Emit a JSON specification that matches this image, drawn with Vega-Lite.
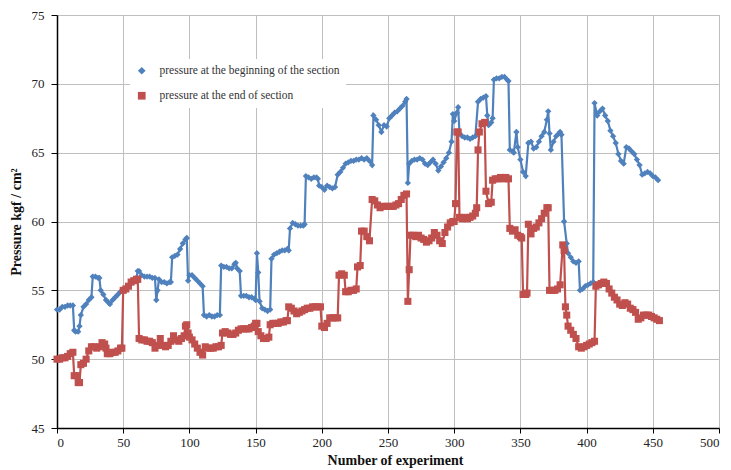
{
  "$schema": "https://vega.github.io/schema/vega-lite/v6.json",
  "width": 662,
  "height": 413,
  "autosize": {"type": "none"},
  "padding": {"left": 57, "top": 15, "right": 12, "bottom": 42},
  "background": "white",
  "config": {
    "view": {"stroke": "#bfbfbf"},
    "font": "Liberation Serif",
    "legend": {
      "orient": "none", "legendX": 73, "legendY": 44,
      "fillColor": "white", "padding": 6, "title": null,
      "labelFont": "Liberation Serif", "labelFontSize": 11.5, "labelColor": "#333333", "labelLimit": 0,
      "rowPadding": 12, "symbolSize": 60, "symbolStrokeWidth": 0, "labelOffset": 12
    }
  },
  "datasets": {
    "begin": [
      {"n":0,"p":53.6},{"n":2,"p":53.6},{"n":4,"p":53.8},{"n":6,"p":53.8},{"n":8,"p":53.9},{"n":10,"p":53.9},{"n":12,"p":53.9},{"n":13,"p":52.1},{"n":14,"p":52.0},{"n":16,"p":52.0},{"n":17,"p":52.4},{"n":18,"p":53.2},{"n":20,"p":53.8},{"n":22,"p":54.0},{"n":24,"p":54.3},{"n":26,"p":54.5},{"n":27,"p":56.0},{"n":29,"p":56.0},{"n":31,"p":55.9},{"n":32,"p":55.9},{"n":33,"p":55.0},{"n":35,"p":54.7},{"n":37,"p":54.3},{"n":39,"p":54.1},{"n":40,"p":54.0},{"n":42,"p":54.3},{"n":44,"p":54.5},{"n":46,"p":54.7},{"n":48,"p":54.9},{"n":50,"p":55.0},{"n":52,"p":55.2},{"n":54,"p":55.3},{"n":56,"p":55.5},{"n":58,"p":55.7},{"n":60,"p":55.9},{"n":61,"p":56.4},{"n":62,"p":56.4},{"n":64,"p":56.1},{"n":66,"p":56.0},{"n":68,"p":56.0},{"n":70,"p":56.0},{"n":72,"p":55.9},{"n":74,"p":55.9},{"n":75,"p":54.3},{"n":76,"p":55.0},{"n":77,"p":55.8},{"n":79,"p":55.6},{"n":81,"p":55.6},{"n":83,"p":55.5},{"n":85,"p":55.6},{"n":86,"p":55.6},{"n":87,"p":57.4},{"n":89,"p":57.5},{"n":91,"p":57.6},{"n":93,"p":58.0},{"n":95,"p":58.4},{"n":97,"p":58.7},{"n":98,"p":58.8},{"n":99,"p":55.7},{"n":100,"p":56.1},{"n":102,"p":56.1},{"n":104,"p":55.9},{"n":106,"p":55.7},{"n":108,"p":55.5},{"n":110,"p":55.3},{"n":111,"p":53.2},{"n":113,"p":53.1},{"n":115,"p":53.2},{"n":117,"p":53.1},{"n":119,"p":53.1},{"n":121,"p":53.2},{"n":123,"p":53.2},{"n":124,"p":56.8},{"n":126,"p":56.7},{"n":128,"p":56.7},{"n":130,"p":56.6},{"n":132,"p":56.6},{"n":134,"p":56.9},{"n":135,"p":57.0},{"n":136,"p":56.6},{"n":138,"p":56.4},{"n":139,"p":54.6},{"n":141,"p":54.6},{"n":143,"p":54.6},{"n":145,"p":54.5},{"n":147,"p":54.5},{"n":149,"p":54.4},{"n":150,"p":54.3},{"n":151,"p":57.7},{"n":152,"p":56.3},{"n":153,"p":54.2},{"n":155,"p":53.7},{"n":157,"p":53.6},{"n":159,"p":53.5},{"n":161,"p":53.6},{"n":162,"p":57.3},{"n":164,"p":57.6},{"n":166,"p":57.7},{"n":168,"p":57.8},{"n":170,"p":57.9},{"n":172,"p":57.9},{"n":174,"p":58.0},{"n":175,"p":57.9},{"n":176,"p":59.5},{"n":178,"p":59.9},{"n":180,"p":59.8},{"n":182,"p":59.7},{"n":184,"p":59.7},{"n":186,"p":59.7},{"n":187,"p":59.8},{"n":188,"p":63.3},{"n":190,"p":63.2},{"n":192,"p":63.1},{"n":194,"p":63.2},{"n":196,"p":63.2},{"n":197,"p":63.1},{"n":198,"p":62.6},{"n":200,"p":62.5},{"n":202,"p":62.3},{"n":204,"p":62.6},{"n":206,"p":62.5},{"n":208,"p":62.4},{"n":210,"p":62.5},{"n":212,"p":63.4},{"n":214,"p":63.6},{"n":216,"p":63.9},{"n":218,"p":64.2},{"n":220,"p":64.3},{"n":222,"p":64.4},{"n":224,"p":64.4},{"n":226,"p":64.5},{"n":228,"p":64.5},{"n":230,"p":64.6},{"n":232,"p":64.5},{"n":234,"p":64.6},{"n":236,"p":64.4},{"n":238,"p":64.1},{"n":239,"p":67.7},{"n":241,"p":67.4},{"n":243,"p":67.0},{"n":245,"p":66.5},{"n":247,"p":67.0},{"n":249,"p":66.9},{"n":251,"p":67.5},{"n":253,"p":67.7},{"n":255,"p":67.9},{"n":257,"p":68.0},{"n":259,"p":68.2},{"n":261,"p":68.4},{"n":263,"p":68.7},{"n":264,"p":68.9},{"n":265,"p":62.8},{"n":266,"p":64.2},{"n":268,"p":64.4},{"n":270,"p":64.5},{"n":272,"p":64.5},{"n":274,"p":64.6},{"n":276,"p":64.5},{"n":278,"p":64.2},{"n":280,"p":64.1},{"n":282,"p":64.3},{"n":284,"p":64.5},{"n":286,"p":64.2},{"n":288,"p":63.7},{"n":290,"p":64.0},{"n":292,"p":64.3},{"n":294,"p":64.6},{"n":296,"p":65.0},{"n":298,"p":65.8},{"n":299,"p":67.8},{"n":300,"p":67.3},{"n":302,"p":67.9},{"n":303,"p":68.3},{"n":304,"p":66.4},{"n":306,"p":66.2},{"n":308,"p":66.1},{"n":310,"p":66.1},{"n":312,"p":66.0},{"n":314,"p":66.1},{"n":316,"p":66.2},{"n":318,"p":68.7},{"n":320,"p":68.9},{"n":322,"p":69.0},{"n":324,"p":69.1},{"n":325,"p":67.7},{"n":326,"p":67.0},{"n":328,"p":67.2},{"n":329,"p":67.5},{"n":330,"p":70.3},{"n":332,"p":70.4},{"n":334,"p":70.4},{"n":336,"p":70.5},{"n":338,"p":70.5},{"n":340,"p":70.3},{"n":341,"p":70.2},{"n":342,"p":65.2},{"n":344,"p":65.1},{"n":345,"p":65.0},{"n":347,"p":66.5},{"n":348,"p":65.4},{"n":350,"p":64.5},{"n":352,"p":63.6},{"n":354,"p":63.3},{"n":356,"p":65.7},{"n":358,"p":65.8},{"n":360,"p":65.3},{"n":362,"p":65.4},{"n":364,"p":65.8},{"n":366,"p":66.2},{"n":368,"p":66.5},{"n":370,"p":67.4},{"n":371,"p":68.0},{"n":372,"p":66.4},{"n":373,"p":65.2},{"n":375,"p":65.8},{"n":377,"p":66.2},{"n":379,"p":66.4},{"n":380,"p":66.5},{"n":381,"p":66.3},{"n":383,"p":60.0},{"n":385,"p":58.4},{"n":386,"p":57.7},{"n":388,"p":57.4},{"n":390,"p":57.1},{"n":392,"p":57.0},{"n":394,"p":57.1},{"n":395,"p":55.0},{"n":397,"p":55.1},{"n":399,"p":55.3},{"n":401,"p":55.4},{"n":403,"p":55.5},{"n":405,"p":55.6},{"n":406,"p":68.6},{"n":408,"p":67.7},{"n":410,"p":68.0},{"n":412,"p":68.2},{"n":414,"p":67.7},{"n":416,"p":67.3},{"n":418,"p":66.6},{"n":420,"p":66.2},{"n":422,"p":65.7},{"n":424,"p":64.9},{"n":426,"p":64.4},{"n":428,"p":64.2},{"n":430,"p":65.4},{"n":432,"p":65.3},{"n":434,"p":65.1},{"n":436,"p":64.9},{"n":438,"p":64.5},{"n":440,"p":64.1},{"n":442,"p":63.4},{"n":444,"p":63.5},{"n":446,"p":63.6},{"n":448,"p":63.5},{"n":450,"p":63.3},{"n":452,"p":63.2},{"n":454,"p":63.0}
    ],
    "end": [
      {"n":0,"p":50.0},{"n":2,"p":50.0},{"n":4,"p":50.1},{"n":6,"p":50.1},{"n":8,"p":50.2},{"n":10,"p":50.4},{"n":12,"p":50.5},{"n":13,"p":48.8},{"n":15,"p":48.8},{"n":16,"p":48.3},{"n":17,"p":48.3},{"n":18,"p":49.6},{"n":20,"p":49.7},{"n":22,"p":50.0},{"n":24,"p":50.6},{"n":26,"p":50.9},{"n":28,"p":50.9},{"n":30,"p":50.8},{"n":32,"p":50.9},{"n":34,"p":51.2},{"n":36,"p":51.1},{"n":37,"p":50.8},{"n":38,"p":50.4},{"n":40,"p":50.4},{"n":42,"p":50.5},{"n":44,"p":50.5},{"n":46,"p":50.6},{"n":48,"p":50.8},{"n":49,"p":50.8},{"n":50,"p":55.0},{"n":52,"p":55.1},{"n":54,"p":55.3},{"n":56,"p":55.6},{"n":58,"p":55.7},{"n":60,"p":55.8},{"n":61,"p":55.8},{"n":62,"p":51.5},{"n":64,"p":51.4},{"n":66,"p":51.4},{"n":68,"p":51.3},{"n":70,"p":51.3},{"n":72,"p":51.2},{"n":74,"p":50.8},{"n":76,"p":51.0},{"n":78,"p":51.5},{"n":80,"p":51.0},{"n":82,"p":50.9},{"n":84,"p":51.0},{"n":86,"p":51.3},{"n":88,"p":51.7},{"n":90,"p":51.4},{"n":92,"p":51.3},{"n":94,"p":51.5},{"n":96,"p":51.7},{"n":97,"p":52.4},{"n":98,"p":52.5},{"n":99,"p":51.9},{"n":100,"p":51.6},{"n":102,"p":51.4},{"n":104,"p":51.1},{"n":106,"p":50.8},{"n":108,"p":50.5},{"n":110,"p":50.3},{"n":112,"p":50.9},{"n":114,"p":50.8},{"n":116,"p":50.8},{"n":118,"p":50.8},{"n":120,"p":50.9},{"n":122,"p":50.9},{"n":124,"p":51.0},{"n":125,"p":51.9},{"n":127,"p":52.0},{"n":129,"p":51.9},{"n":131,"p":51.8},{"n":133,"p":51.8},{"n":135,"p":51.9},{"n":137,"p":52.1},{"n":139,"p":52.2},{"n":141,"p":52.2},{"n":143,"p":52.2},{"n":145,"p":52.2},{"n":147,"p":52.3},{"n":149,"p":52.4},{"n":150,"p":52.6},{"n":151,"p":52.6},{"n":152,"p":52.0},{"n":154,"p":51.7},{"n":156,"p":51.5},{"n":158,"p":51.5},{"n":160,"p":51.6},{"n":161,"p":52.5},{"n":163,"p":52.6},{"n":165,"p":52.6},{"n":167,"p":52.6},{"n":169,"p":52.7},{"n":171,"p":52.7},{"n":173,"p":52.8},{"n":174,"p":52.8},{"n":175,"p":53.8},{"n":177,"p":53.7},{"n":179,"p":53.5},{"n":181,"p":53.3},{"n":183,"p":53.4},{"n":185,"p":53.5},{"n":187,"p":53.6},{"n":189,"p":53.7},{"n":191,"p":53.7},{"n":193,"p":53.8},{"n":195,"p":53.8},{"n":197,"p":53.8},{"n":199,"p":53.8},{"n":200,"p":52.4},{"n":202,"p":52.3},{"n":204,"p":52.6},{"n":206,"p":53.0},{"n":208,"p":53.0},{"n":210,"p":53.0},{"n":212,"p":53.0},{"n":213,"p":56.1},{"n":215,"p":56.2},{"n":217,"p":56.1},{"n":218,"p":54.9},{"n":220,"p":54.9},{"n":222,"p":55.0},{"n":224,"p":55.0},{"n":226,"p":55.1},{"n":227,"p":56.7},{"n":229,"p":56.8},{"n":230,"p":59.3},{"n":232,"p":59.3},{"n":234,"p":58.9},{"n":236,"p":58.6},{"n":238,"p":61.6},{"n":240,"p":61.5},{"n":242,"p":61.2},{"n":244,"p":61.0},{"n":246,"p":61.1},{"n":248,"p":61.1},{"n":250,"p":61.1},{"n":252,"p":61.1},{"n":254,"p":61.1},{"n":256,"p":61.2},{"n":258,"p":61.3},{"n":260,"p":61.6},{"n":262,"p":61.9},{"n":264,"p":62.0},{"n":265,"p":54.2},{"n":266,"p":56.5},{"n":267,"p":59.0},{"n":269,"p":59.0},{"n":271,"p":58.9},{"n":273,"p":59.0},{"n":275,"p":58.8},{"n":277,"p":58.7},{"n":279,"p":58.5},{"n":281,"p":58.6},{"n":283,"p":58.8},{"n":285,"p":59.2},{"n":287,"p":59.0},{"n":289,"p":58.6},{"n":291,"p":58.4},{"n":293,"p":59.2},{"n":295,"p":59.6},{"n":297,"p":59.9},{"n":299,"p":60.0},{"n":300,"p":60.0},{"n":301,"p":61.3},{"n":302,"p":66.5},{"n":303,"p":66.5},{"n":304,"p":60.3},{"n":306,"p":60.2},{"n":308,"p":60.3},{"n":310,"p":60.2},{"n":312,"p":60.3},{"n":314,"p":60.4},{"n":316,"p":60.6},{"n":317,"p":61.0},{"n":318,"p":65.2},{"n":319,"p":66.5},{"n":321,"p":67.1},{"n":323,"p":67.2},{"n":324,"p":62.2},{"n":326,"p":61.3},{"n":328,"p":61.4},{"n":329,"p":63.0},{"n":331,"p":63.1},{"n":333,"p":63.1},{"n":335,"p":63.2},{"n":337,"p":63.1},{"n":339,"p":63.2},{"n":341,"p":63.1},{"n":342,"p":59.5},{"n":344,"p":59.3},{"n":346,"p":59.4},{"n":348,"p":59.0},{"n":350,"p":58.9},{"n":351,"p":58.8},{"n":352,"p":54.7},{"n":354,"p":54.7},{"n":355,"p":54.8},{"n":356,"p":59.8},{"n":358,"p":59.1},{"n":360,"p":59.5},{"n":362,"p":59.6},{"n":364,"p":59.9},{"n":366,"p":60.2},{"n":368,"p":60.6},{"n":370,"p":61.0},{"n":371,"p":61.0},{"n":372,"p":55.0},{"n":374,"p":55.0},{"n":376,"p":55.0},{"n":378,"p":55.1},{"n":380,"p":55.4},{"n":382,"p":58.3},{"n":383,"p":57.9},{"n":384,"p":53.8},{"n":385,"p":53.2},{"n":386,"p":52.4},{"n":388,"p":52.1},{"n":390,"p":51.8},{"n":392,"p":51.5},{"n":394,"p":50.9},{"n":396,"p":50.8},{"n":398,"p":50.9},{"n":400,"p":51.0},{"n":402,"p":51.1},{"n":404,"p":51.2},{"n":406,"p":51.3},{"n":407,"p":55.3},{"n":409,"p":55.4},{"n":411,"p":55.5},{"n":413,"p":55.6},{"n":415,"p":55.5},{"n":417,"p":55.1},{"n":419,"p":54.8},{"n":421,"p":54.5},{"n":423,"p":54.3},{"n":425,"p":54.0},{"n":427,"p":53.9},{"n":429,"p":54.1},{"n":431,"p":54.0},{"n":433,"p":53.7},{"n":435,"p":53.6},{"n":437,"p":53.4},{"n":439,"p":52.9},{"n":441,"p":53.0},{"n":443,"p":53.2},{"n":445,"p":53.2},{"n":447,"p":53.2},{"n":449,"p":53.1},{"n":451,"p":53.0},{"n":453,"p":52.9},{"n":455,"p":52.8}
    ]
  },
  "encoding": {
    "x": {
      "field": "n", "type": "quantitative",
      "scale": {"domain": [0, 500], "nice": false, "zero": false},
      "axis": {
        "title": "Number of experiment",
        "values": [0,50,100,150,200,250,300,350,400,450,500],
        "grid": true, "gridColor": "#bfbfbf", "gridWidth": 1,
        "domainColor": "#000000", "domainWidth": 1.5,
        "tickColor": "#000000", "tickSize": 5,
        "labelFont": "Liberation Serif", "labelFontSize": 13, "labelColor": "#222222", "labelPadding": 3,
        "titleFont": "Liberation Serif", "titleFontSize": 14, "titleFontWeight": "bold", "titleColor": "#111111", "titlePadding": 4, "titleX": 338
      }
    },
    "y": {
      "field": "p", "type": "quantitative",
      "scale": {"domain": [45, 75], "nice": false, "zero": false},
      "axis": {
        "title": "Pressure kgf / cm²",
        "values": [45,50,55,60,65,70,75],
        "grid": true, "gridColor": "#bfbfbf", "gridWidth": 1,
        "domainColor": "#000000", "domainWidth": 1.5,
        "tickColor": "#000000", "tickSize": 6,
        "labelFont": "Liberation Serif", "labelFontSize": 13, "labelColor": "#222222", "labelPadding": 7,
        "titleFont": "Liberation Serif", "titleFontSize": 14, "titleFontWeight": "bold", "titleColor": "#111111", "titlePadding": 8
      }
    }
  },
  "layer": [
    {
      "data": {"name": "begin"},
      "mark": {"type": "line", "strokeWidth": 2.2},
      "encoding": {
        "color": {"datum": "pressure at the beginning of the section", "type": "nominal",
          "scale": {"domain": ["pressure at the beginning of the section", "pressure at the end of section"], "range": ["#4F81BD", "#C0504D"]}}
      }
    },
    {
      "data": {"name": "begin"},
      "mark": {"type": "point", "filled": true, "opacity": 1, "size": 40},
      "encoding": {
        "color": {"datum": "pressure at the beginning of the section", "type": "nominal"},
        "shape": {"datum": "pressure at the beginning of the section", "type": "nominal",
          "scale": {"domain": ["pressure at the beginning of the section", "pressure at the end of section"], "range": ["diamond", "square"]}}
      }
    },
    {
      "data": {"name": "end"},
      "mark": {"type": "line", "strokeWidth": 2.2},
      "encoding": {
        "color": {"datum": "pressure at the end of section", "type": "nominal"}
      }
    },
    {
      "data": {"name": "end"},
      "mark": {"type": "point", "filled": true, "opacity": 1, "size": 50},
      "encoding": {
        "color": {"datum": "pressure at the end of section", "type": "nominal"},
        "shape": {"datum": "pressure at the end of section", "type": "nominal"}
      }
    }
  ]
}
